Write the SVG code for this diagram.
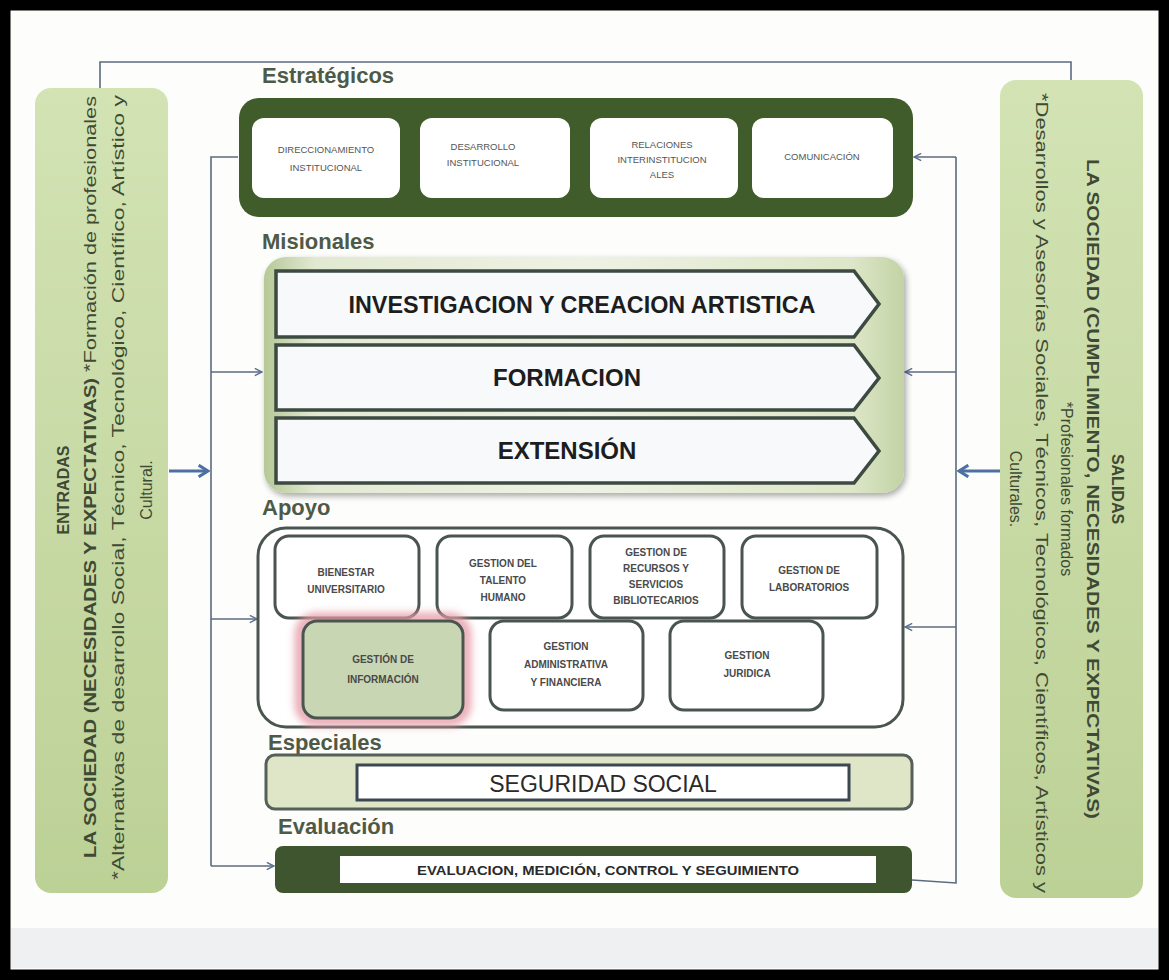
<svg xmlns="http://www.w3.org/2000/svg" width="1169" height="980" viewBox="0 0 1169 980">
<defs>
  <linearGradient id="gSide" x1="0" y1="0" x2="0" y2="1">
    <stop offset="0" stop-color="#d3e3b4"/>
    <stop offset="1" stop-color="#bcd196"/>
  </linearGradient>
  <linearGradient id="gMis" x1="0" y1="0" x2="1" y2="0">
    <stop offset="0" stop-color="#b6c897"/>
    <stop offset="0.08" stop-color="#e2e9d2"/>
    <stop offset="0.5" stop-color="#eef2e4"/>
    <stop offset="0.92" stop-color="#dde6c8"/>
    <stop offset="1" stop-color="#c3d3a5"/>
  </linearGradient>
  <filter id="shadow" x="-5%" y="-5%" width="110%" height="115%">
    <feGaussianBlur in="SourceAlpha" stdDeviation="3"/>
    <feOffset dx="2" dy="3" result="b"/>
    <feComponentTransfer><feFuncA type="linear" slope="0.35"/></feComponentTransfer>
    <feMerge><feMergeNode/><feMergeNode in="SourceGraphic"/></feMerge>
  </filter>
  <filter id="glow" x="-20%" y="-20%" width="140%" height="140%">
    <feGaussianBlur stdDeviation="4"/>
  </filter>
  <marker id="arr" viewBox="0 0 10 10" refX="9" refY="5" markerWidth="9" markerHeight="9" orient="auto" markerUnits="userSpaceOnUse">
    <path d="M1,1 L9,5 L1,9" fill="none" stroke="#5b7090" stroke-width="1.6"/>
  </marker>
  <marker id="big" viewBox="0 0 12 12" refX="10" refY="6" markerWidth="14" markerHeight="14" orient="auto" markerUnits="userSpaceOnUse">
    <path d="M2,1 L10,6 L2,11" fill="none" stroke="#4d6fa3" stroke-width="2.6"/>
  </marker>
  <style>
    .lbl{font-family:"Liberation Sans",Arial,sans-serif;font-size:22px;font-weight:bold;fill:#4e5a48}
    .sm{font-family:"Liberation Sans",Arial,sans-serif;font-size:9.5px;fill:#555;text-anchor:middle}
    .ap{font-family:"Liberation Sans",Arial,sans-serif;font-size:10px;font-weight:bold;fill:#4a4a4a;text-anchor:middle}
    .mis{font-family:"Liberation Sans",Arial,sans-serif;font-size:24px;font-weight:bold;fill:#1d1d1d;text-anchor:middle}
    .side{font-family:"Liberation Sans",Arial,sans-serif;font-size:16px;fill:#3f4a35}
    .sideb{font-family:"Liberation Sans",Arial,sans-serif;font-size:16px;font-weight:bold;fill:#3f4a35}
    .wbox{fill:#fff;stroke:#4a5550;stroke-width:3}
    .chev{fill:#f7f9fb;stroke:#3c4a42;stroke-width:3.5;stroke-linejoin:miter}
    .con{fill:none;stroke:#5b6b80;stroke-width:1.6}
    .bigc{fill:none;stroke:#4d6fa3;stroke-width:3}
  </style>
</defs>

<rect x="5" y="5" width="1159" height="970" fill="#fdfdfb" stroke="#000" stroke-width="11"/>
<rect x="11" y="928" width="1147" height="40" fill="#eef0f2"/>

<g id="connectors">
  <polyline class="con" points="100,90 100,62 1071,62 1071,80" stroke="#8d97a2" stroke-width="2"/>
  <polyline class="con" points="238,157 211,157 211,866"/>
  <line class="con" x1="211" y1="372" x2="262" y2="372" marker-end="url(#arr)"/>
  <line class="con" x1="211" y1="619" x2="257" y2="619" marker-end="url(#arr)"/>
  <line class="con" x1="211" y1="866" x2="274" y2="866" marker-end="url(#arr)"/>
  <line class="bigc" x1="169" y1="471" x2="208" y2="471" marker-end="url(#big)"/>
  <polyline class="con" points="912,880 956,883 956,157"/>
  <line class="con" x1="956" y1="157" x2="914" y2="157" marker-end="url(#arr)"/>
  <line class="con" x1="956" y1="372" x2="905" y2="372" marker-end="url(#arr)"/>
  <line class="con" x1="956" y1="627" x2="905" y2="627" marker-end="url(#arr)"/>
  <line class="bigc" x1="1000" y1="471" x2="959" y2="471" marker-end="url(#big)"/>
</g>

<g id="entradas">
  <rect x="35" y="88" width="133" height="805" rx="16" fill="url(#gSide)"/>
  <g transform="translate(0,490) rotate(-90)">
    <text class="sideb" x="0" y="69" text-anchor="middle">ENTRADAS</text>
    <text class="sideb" x="-368" y="96" textLength="480" lengthAdjust="spacingAndGlyphs">LA SOCIEDAD (NECESIDADES Y EXPECTATIVAS)</text>
    <text class="side" x="118" y="96" textLength="276" lengthAdjust="spacingAndGlyphs">*Formación de profesionales</text>
    <text class="side" x="-390" y="124" textLength="785" lengthAdjust="spacingAndGlyphs">*Alternativas de desarrollo Social, Técnico, Tecnológico, Científico, Artístico y</text>
    <text class="side" x="0" y="152" text-anchor="middle">Cultural.</text>
  </g>
</g>

<g id="salidas">
  <rect x="1000" y="80" width="143" height="818" rx="16" fill="url(#gSide)"/>
  <g transform="translate(0,489) rotate(90)">
    <text class="sideb" x="0" y="-1112" text-anchor="middle">SALIDAS</text>
    <text class="sideb" x="-330" y="-1087" textLength="660" lengthAdjust="spacingAndGlyphs">LA SOCIEDAD (CUMPLIMIENTO, NECESIDADES Y EXPECTATIVAS)</text>
    <text class="side" x="0" y="-1061" text-anchor="middle">*Profesionales formados</text>
    <text class="side" x="-396" y="-1036" textLength="800" lengthAdjust="spacingAndGlyphs">*Desarrollos y Asesorías Sociales, Técnicos, Tecnológicos, Científicos, Artísticos y</text>
    <text class="side" x="0" y="-1010" text-anchor="middle">Culturales.</text>
  </g>
</g>

<g id="estrategicos">
  <text class="lbl" x="262" y="83">Estratégicos</text>
  <rect x="239" y="98" width="674" height="119" rx="20" fill="#405c2a"/>
  <rect x="252" y="118" width="148" height="80" rx="12" fill="#fff"/>
  <text class="sm" x="326" y="153">DIRECCIONAMIENTO</text>
  <text class="sm" x="326" y="171">INSTITUCIONAL</text>
  <rect x="420" y="118" width="150" height="80" rx="12" fill="#fff"/>
  <text class="sm" x="483" y="150" font-size="8.5">DESARROLLO</text>
  <text class="sm" x="483" y="166" font-size="8.5">INSTITUCIONAL</text>
  <rect x="590" y="118" width="148" height="80" rx="12" fill="#fff"/>
  <text class="sm" x="662" y="148" font-size="8.5">RELACIONES</text>
  <text class="sm" x="662" y="163" font-size="8.5">INTERINSTITUCION</text>
  <text class="sm" x="662" y="178" font-size="8.5">ALES</text>
  <rect x="752" y="118" width="141" height="80" rx="12" fill="#fff"/>
  <text class="sm" x="822" y="160">COMUNICACIÓN</text>
</g>

<g id="misionales">
  <text class="lbl" x="262" y="249">Misionales</text>
  <rect x="264" y="257" width="640" height="236" rx="22" fill="url(#gMis)" filter="url(#shadow)"/>
  <polygon class="chev" points="276,271 854,271 879,304 854,337 276,337"/>
  <text class="mis" x="582" y="313" textLength="467" lengthAdjust="spacingAndGlyphs">INVESTIGACION Y CREACION ARTISTICA</text>
  <polygon class="chev" points="276,345 854,345 879,378 854,410 276,410"/>
  <text class="mis" x="567" y="386">FORMACION</text>
  <polygon class="chev" points="276,418 854,418 879,451 854,483 276,483"/>
  <text class="mis" x="567" y="459">EXTENSIÓN</text>
</g>

<g id="apoyo">
  <text class="lbl" x="262" y="515">Apoyo</text>
  <rect x="258" y="528" width="645" height="199" rx="28" class="wbox"/>
  <rect x="275" y="536" width="144" height="82" rx="14" class="wbox"/>
  <text class="ap" x="346" y="576">BIENESTAR</text>
  <text class="ap" x="346" y="593">UNIVERSITARIO</text>
  <rect x="437" y="536" width="135" height="82" rx="14" class="wbox"/>
  <text class="ap" x="503" y="567">GESTION DEL</text>
  <text class="ap" x="503" y="584">TALENTO</text>
  <text class="ap" x="503" y="601">HUMANO</text>
  <rect x="590" y="536" width="134" height="82" rx="14" class="wbox"/>
  <text class="ap" x="656" y="556">GESTION DE</text>
  <text class="ap" x="656" y="572">RECURSOS Y</text>
  <text class="ap" x="656" y="588">SERVICIOS</text>
  <text class="ap" x="656" y="604">BIBLIOTECARIOS</text>
  <rect x="742" y="536" width="135" height="82" rx="14" class="wbox"/>
  <text class="ap" x="809" y="574">GESTION DE</text>
  <text class="ap" x="809" y="591">LABORATORIOS</text>
  <rect x="490" y="621" width="153" height="89" rx="14" class="wbox"/>
  <text class="ap" x="566" y="650">GESTION</text>
  <text class="ap" x="566" y="668">ADMINISTRATIVA</text>
  <text class="ap" x="566" y="686">Y FINANCIERA</text>
  <rect x="670" y="621" width="153" height="89" rx="14" class="wbox"/>
  <text class="ap" x="747" y="659">GESTION</text>
  <text class="ap" x="747" y="677">JURIDICA</text>
</g>

<g id="gestion-informacion">
  <rect x="300" y="618" width="166" height="103" rx="16" fill="none" stroke="#e59aa6" stroke-width="9" filter="url(#glow)"/>
  <rect x="303" y="621" width="160" height="97" rx="14" fill="#c9d6b3" stroke="#4a5550" stroke-width="3"/>
  <text class="ap" x="383" y="663" font-size="13" fill="#3b4236">GESTIÓN DE</text>
  <text class="ap" x="383" y="683" font-size="13" fill="#3b4236">INFORMACIÓN</text>
</g>

<g id="especiales">
  <text class="lbl" x="268" y="750">Especiales</text>
  <rect x="266" y="755" width="646" height="54" rx="9" fill="#dfe6c7" stroke="#55605a" stroke-width="3"/>
  <rect x="357" y="765" width="492" height="35" fill="#fff" stroke="#3c4752" stroke-width="3"/>
  <text x="603" y="792" text-anchor="middle" font-family="Liberation Sans, Arial, sans-serif" font-size="23" fill="#2a2a2a">SEGURIDAD SOCIAL</text>
</g>

<g id="evaluacion">
  <text class="lbl" x="278" y="834">Evaluación</text>
  <rect x="275" y="846" width="637" height="47" rx="8" fill="#3e5530"/>
  <rect x="340" y="856" width="536" height="27" fill="#fff"/>
  <text x="608" y="875" text-anchor="middle" font-family="Liberation Sans, Arial, sans-serif" font-size="13" font-weight="bold" fill="#2a2a2a" textLength="382" lengthAdjust="spacingAndGlyphs">EVALUACION, MEDICIÓN, CONTROL Y SEGUIMIENTO</text>
</g>
</svg>
